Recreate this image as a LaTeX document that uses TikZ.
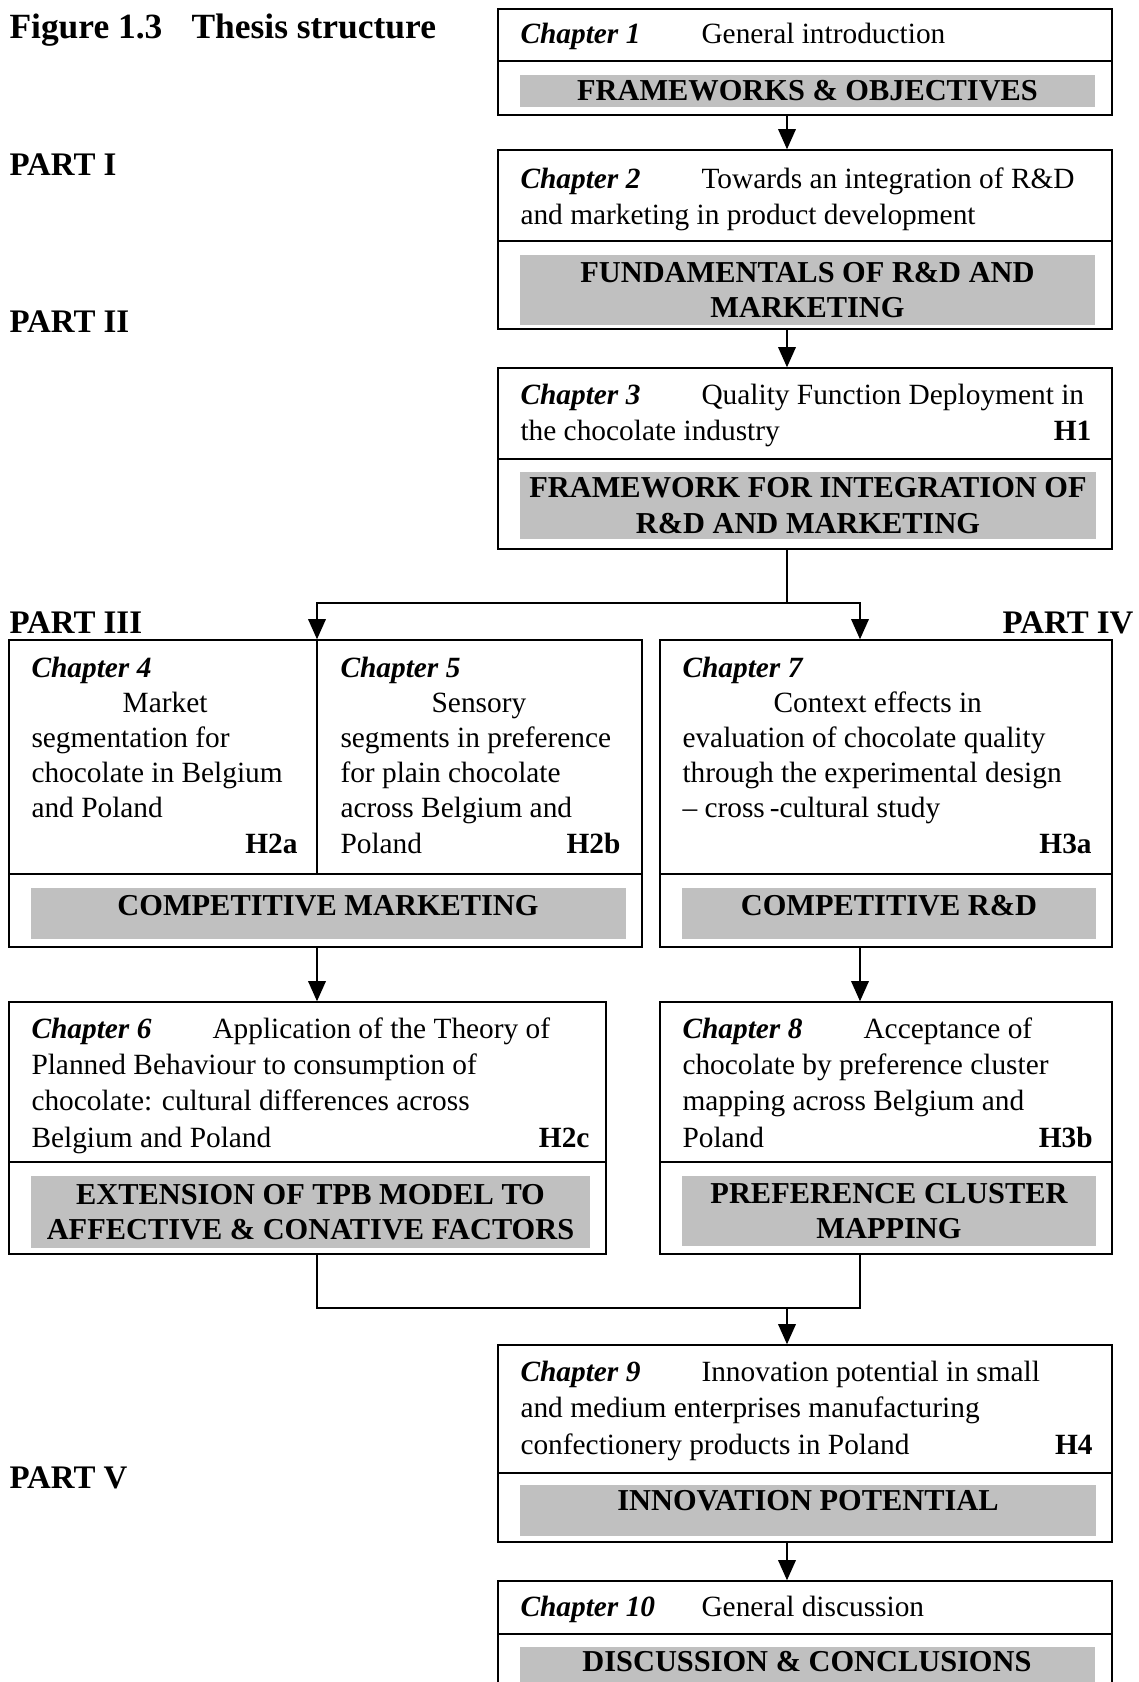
\documentclass[tikz,border=0pt]{standalone}
\usepackage{fontspec}
\setmainfont{Liberation Serif}
\usetikzlibrary{fit,arrows.meta}
\definecolor{bandgray}{RGB}{192,192,192}
% chapter label followed by a fixed tab stop
\newcommand{\chapname}[1]{\makebox[71.5pt][l]{\bfseries\itshape #1}}
% last line of a description with the hypothesis set flush right
\newcommand{\hypline}[3]{\makebox[#1][l]{#2\hfill\textbf{#3}}}

\begin{document}
\begin{tikzpicture}[x=0.395pt,y=-0.395pt,
  cell/.style={draw, line width=0.6pt, inner sep=0pt},
  band/.style={fill=bandgray, inner sep=0pt},
  bandtext/.style={inner sep=0pt, align=center,
    font=\fontsize{12}{13.9}\selectfont\bfseries},
  % multi-line descriptions are placed by the baseline of their last line
  body/.style={anchor=base west, inner sep=0pt, align=left,
    font=\fontsize{11.6}{13.9}\selectfont},
  bodywide/.style={body, font=\fontsize{11.6}{14.3}\selectfont},
  partlabel/.style={inner sep=0pt, font=\fontsize{13}{15}\selectfont\bfseries},
  link/.style={line width=0.6pt},
  arr/.style={line width=0.6pt, -{Triangle[width=7pt,length=8pt]}}]

\useasboundingbox (0,0) rectangle (1139,1682);
\clip (0,0) rectangle (1139,1682);
\fill[white] (0,0) rectangle (1139,1682);

% title and part labels
\node[anchor=base west, inner sep=0pt, font=\fontsize{14}{16}\selectfont\bfseries]
  (title) at (9,38) {\makebox[71.9pt][l]{Figure 1.3}Thesis structure};
\node[partlabel, anchor=base west] (p1) at (9,175) {PART I};
\node[partlabel, anchor=base west] (p2) at (9,332) {PART II};
\node[partlabel, anchor=base west] (p3) at (9,633) {PART III};
\node[partlabel, anchor=base east] (p4) at (1134,633) {PART IV};
\node[partlabel, anchor=base west] (p5) at (9,1488) {PART V};

% Chapter 1
\node[cell, fit={(498,9)(1112,61)}] (c1) {};
\node[cell, fit={(498,61)(1112,115)}] (c1b) {};
\node[band, fit={(520,75)(1095,107)}] (g1) {};
\node[bandtext] (g1t) at (g1.center) {FRAMEWORKS \& OBJECTIVES};
\node[body] (t1) at (520,43) {\chapname{Chapter 1}General introduction};

% Chapter 2
\node[cell, fit={(498,150)(1112,241)}] (c2) {};
\node[cell, fit={(498,241)(1112,329)}] (c2b) {};
\node[band, fit={(520,255)(1095,325)}] (g2) {};
\node[bandtext] (g2t) at (g2.center) {FUNDAMENTALS OF R\&D AND\\MARKETING};
\node[body] (t2) at (520,224)
  {\chapname{Chapter 2}Towards an integration of R\&D\\and marketing in product development};

% Chapter 3
\node[cell, fit={(498,368)(1112,459)}] (c3) {};
\node[cell, fit={(498,459)(1112,549)}] (c3b) {};
\node[band, fit={(520,472)(1096,539)}] (g3) {};
\node[bandtext] (g3t) at (g3.center) {FRAMEWORK FOR INTEGRATION OF\\R\&D AND MARKETING};
\node[body] (t3) at (520,440)
  {\chapname{Chapter 3}Quality Function Deployment in\\\hypline{225.5pt}{the chocolate industry}{H1}};

% Chapters 4 and 5
\node[cell, fit={(9,640)(317,874)}] (c4) {};
\node[cell, fit={(317,640)(642,874)}] (c5) {};
\node[cell, fit={(9,874)(642,947)}] (c45b) {};
\node[band, fit={(31,888)(626,939)}] (g45) {};
\node[bandtext] (g45t) at (328,906) {COMPETITIVE MARKETING};
\node[body] (t4) at (31,853)
  {\textbf{\textit{Chapter 4}}\\\hspace*{36pt}Market\\segmentation for\\chocolate in Belgium\\and Poland\\\hypline{105.1pt}{}{H2a}};
\node[body] (t5) at (340,853)
  {\textbf{\textit{Chapter 5}}\\\hspace*{36pt}Sensory\\segments in preference\\for plain chocolate\\across Belgium and\\\hypline{110.6pt}{Poland}{H2b}};

% Chapter 7
\node[cell, fit={(660,640)(1112,874)}] (c7) {};
\node[cell, fit={(660,874)(1112,947)}] (c7b) {};
\node[band, fit={(682,888)(1096,939)}] (g7) {};
\node[bandtext] (g7t) at (889,906) {COMPETITIVE R\&D};
\node[body] (t7) at (682,853)
  {\textbf{\textit{Chapter 7}}\\\hspace*{36pt}Context effects in\\evaluation of chocolate quality\\through the experimental design\\-- cross\,-cultural study\\\hypline{161.6pt}{}{H3a}};

% Chapter 6
\node[cell, fit={(9,1002)(606,1162)}] (c6) {};
\node[cell, fit={(9,1162)(606,1254)}] (c6b) {};
\node[band, fit={(31,1176)(590,1248)}] (g6) {};
\node[bandtext] (g6t) at (g6.center) {EXTENSION OF TPB MODEL TO\\AFFECTIVE \& CONATIVE FACTORS};
\node[bodywide] (t6) at (31,1147)
  {\chapname{Chapter 6}Application of the Theory of\\Planned Behaviour to consumption of\\chocolate: cultural differences across\\\hypline{220.4pt}{Belgium and Poland}{H2c}};

% Chapter 8
\node[cell, fit={(660,1002)(1112,1162)}] (c8) {};
\node[cell, fit={(660,1162)(1112,1254)}] (c8b) {};
\node[band, fit={(682,1176)(1096,1246)}] (g8) {};
\node[bandtext] (g8t) at (g8.center) {PREFERENCE CLUSTER\\MAPPING};
\node[bodywide] (t8) at (682,1147)
  {\chapname{Chapter 8}Acceptance of\\chocolate by preference cluster\\mapping across Belgium and\\\hypline{162pt}{Poland}{H3b}};

% Chapter 9
\node[cell, fit={(498,1345)(1112,1473)}] (c9) {};
\node[cell, fit={(498,1473)(1112,1542)}] (c9b) {};
\node[band, fit={(520,1485)(1096,1536)}] (g9) {};
\node[bandtext] (g9t) at (808,1501) {INNOVATION POTENTIAL};
\node[bodywide] (t9) at (520,1454)
  {\chapname{Chapter 9}Innovation potential in small\\and medium enterprises manufacturing\\\hypline{226pt}{confectionery products in Poland}{H4}};

% Chapter 10
\node[cell, fit={(498,1581)(1112,1634)}] (c10) {};
\node[cell, fit={(498,1634)(1112,1720)}] (c10b) {};
\node[band, fit={(520,1647)(1095,1720)}] (g10) {};
\node[bandtext] (g10t) at (807,1662) {DISCUSSION \& CONCLUSIONS};
\node[body] (t10) at (520,1616) {\chapname{Chapter 10}General discussion};

% connector guide lines
\coordinate (mx) at (787,0);
\coordinate (lx) at (317,0);
\coordinate (rx) at (860,0);
\coordinate (s1) at (0,603);
\coordinate (s2) at (0,1308);

\draw[arr] (c1b.south -| mx) -- (c2.north -| mx);
\draw[arr] (c2b.south -| mx) -- (c3.north -| mx);
\draw[link] (c3b.south -| mx) -- (s1 -| mx);
\draw[arr] (s1 -| mx) -- (s1 -| lx) -- (c4.north -| lx);
\draw[arr] (s1 -| mx) -- (s1 -| rx) -- (c7.north -| rx);
\draw[arr] (c45b.south -| lx) -- (c6.north -| lx);
\draw[arr] (c7b.south -| rx) -- (c8.north -| rx);
\draw[link] (c6b.south -| lx) -- (s2 -| lx) -- (s2 -| rx) -- (c8b.south -| rx);
\draw[arr] (s2 -| mx) -- (c9.north -| mx);
\draw[arr] (c9b.south -| mx) -- (c10.north -| mx);
\end{tikzpicture}
\end{document}
